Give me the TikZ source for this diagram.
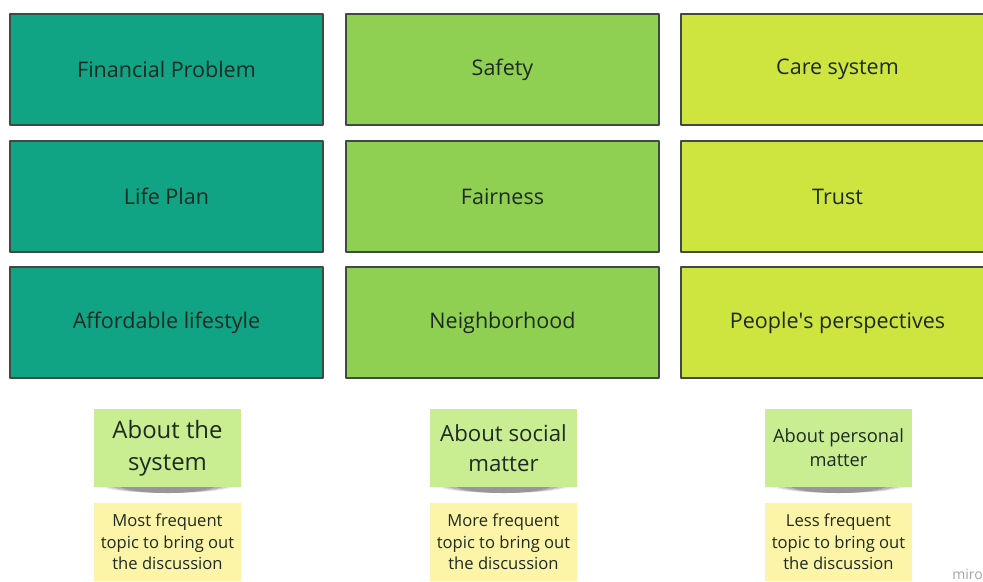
\documentclass[tikz,border=0pt]{standalone}
\usepackage{fontspec}
\setmainfont{Open Sans}
\usepackage{tikz}
\usetikzlibrary{positioning}
\definecolor{teal}{HTML}{10A384}
\definecolor{leaf}{HTML}{8FD052}
\definecolor{lime}{HTML}{CEE43F}
\definecolor{notegreen}{HTML}{C9EE91}
\definecolor{noteyellow}{HTML}{FCF4A6}
\definecolor{ink}{HTML}{1E2A22}
\newcommand{\px}{0.025cm}
\tikzset{
  every picture/.style={line join=round},
  topic/.style={draw=ink!85, line width=1pt, minimum width=313*\px, minimum height=111*\px,
    inner sep=0pt, text=ink, font=\fontsize{15.3}{18}\selectfont},
  sticky/.style={minimum width=147*\px, minimum height=78*\px, inner sep=2pt, align=center,
    text=ink},
  aboutnote/.style={sticky, fill=notegreen},
  freqnote/.style={sticky, fill=noteyellow, font=\fontsize{11.8}{15.4}\selectfont},
}
\begin{document}
\begin{tikzpicture}[x=\px,y=-\px]
\useasboundingbox (0,0) rectangle (983,581);
\fill[white] (0,0) rectangle (983,581);
\begin{scope}
\clip (0,0) rectangle (983,581);
% topic boxes, one column per kind of matter
\node[topic, fill=teal] (finance) at (166.5,69.5) {Financial Problem};
\node[topic, fill=teal] (lifeplan) at (166.5,196.5) {Life Plan};
\node[topic, fill=teal] (afford) at (166.5,322.5) {Affordable lifestyle};
\node[topic, fill=leaf] (safety) at (502.5,69.5) {Safety};
\node[topic, fill=leaf] (fair) at (502.5,196.5) {Fairness};
\node[topic, fill=leaf] (neighbor) at (502.5,322.5) {Neighborhood};
\node[topic, fill=lime] (care) at (837.5,69.5) {Care system};
\node[topic, fill=lime] (trust) at (837.5,196.5) {Trust};
\node[topic, fill=lime] (people) at (837.5,322.5) {People\textquotesingle s perspectives};
% soft shadows under the green notes
\foreach \cx in {167.5,503.5,838.5}{
  \foreach \w/\op in {72/0.08,66/0.10,60/0.14,52/0.16}
    \fill[black,opacity=\op] (\cx-\w,484) .. controls (\cx-\w+10,496) and (\cx+\w-10,496) .. (\cx+\w,484) -- cycle;
}
\node[aboutnote, font=\fontsize{17}{23}\selectfont] (system) at (167.5,448) {About the\\system};
\node[aboutnote, font=\fontsize{15.8}{21}\selectfont] (social) at (503.5,448) {About social\\matter};
\node[aboutnote, font=\fontsize{13}{17}\selectfont] (personal) at (838.5,448) {About personal\\matter};
\node[freqnote] (most) at (167.5,542) {Most frequent\\topic to bring out\\the discussion};
\node[freqnote] (more) at (503.5,542) {More frequent\\topic to bring out\\the discussion};
\node[freqnote] (less) at (838.5,542) {Less frequent\\topic to bring out\\the discussion};
\node[anchor=south west, text=black!35, font=\fontsize{10}{10}\selectfont, inner sep=0pt] (miro) at (952,580) {miro};
\end{scope}
\end{tikzpicture}
\end{document}
